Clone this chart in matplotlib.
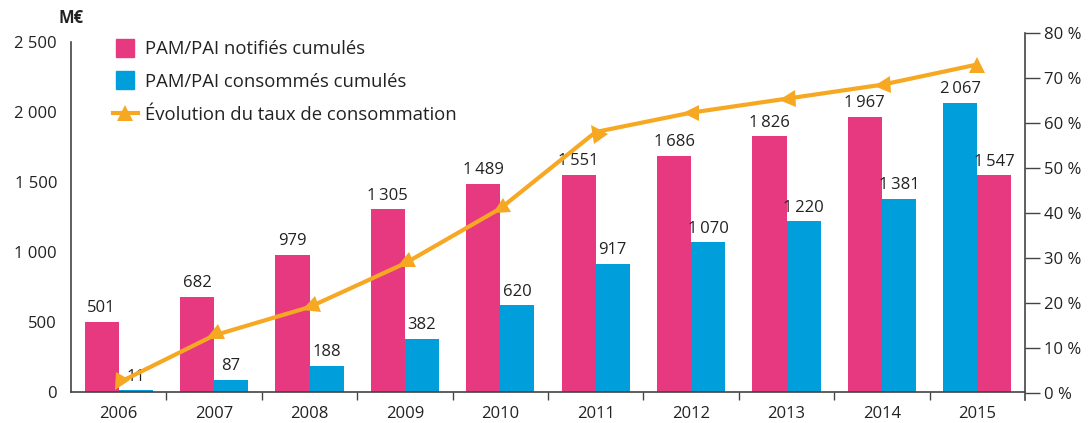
import matplotlib
matplotlib.use("Agg")
import matplotlib.pyplot as plt
from matplotlib.lines import Line2D
from matplotlib.markers import MarkerStyle
from matplotlib.transforms import Affine2D

plt.rcParams['font.family'] = ['Open Sans', 'DejaVu Sans']

# --- data -------------------------------------------------------------
years = ["2006", "2007", "2008", "2009", "2010", "2011", "2012", "2013", "2014", "2015"]
notifies = [501, 682, 979, 1305, 1489, 1551, 1686, 1826, 1967, 2067]
consommes = [11, 87, 188, 382, 620, 917, 1070, 1220, 1381, 1547]
taux = [2.3, 12.8, 19.1, 28.8, 41.0, 58.0, 62.3, 65.4, 68.5, 73.0]
left_ticks = [0, 500, 1000, 1500, 2000, 2500]
left_tick_labels = ["0", "500", "1 000", "1 500", "2 000", "2 500"]
right_ticks = [0, 10, 20, 30, 40, 50, 60, 70, 80]
right_tick_labels = ["0 %", "10 %", "20 %", "30 %", "40 %", "50 %", "60 %", "70 %", "80 %"]
legend_labels = ["PAM/PAI notifiés cumulés", "PAM/PAI consommés cumulés",
                 "Évolution du taux de consommation"]

PINK = "#E6397F"
BLUE = "#009FDB"
ORANGE = "#F7A823"
TXT = "#222222"
AXC = "#444444"

# the last year's pair is printed with its colours swapped
left_colors = [PINK] * 9 + [BLUE]
right_colors = [BLUE] * 9 + [PINK]
# orientation of the triangle markers along the curve (degrees)
marker_rot = [150, 115, 112, 115, 118, 35, 90, 95, 95, 0]


def fmt(v):
    s = f"{v:,}"
    return s.replace(",", "\u2009")


W, H = 1092, 423
fig = plt.figure(figsize=(W / 100, H / 100), dpi=100)

# bar axes
ax = fig.add_axes([71 / W, (H - 392) / H, (1025 - 71) / W, (392 - 42) / H])
n = len(years)
x = list(range(n))
bw = 0.357
xl = [i - bw / 2 for i in x]
xr = [i + bw / 2 for i in x]
ax.bar(xl, notifies, width=bw, color=left_colors, linewidth=0, zorder=2)
ax.bar(xr, consommes, width=bw, color=right_colors, linewidth=0, zorder=2)
for xi, v in zip(xl, notifies):
    ax.annotate(fmt(v), (xi, v), xytext=(0, 4), textcoords="offset points",
                ha="center", va="bottom", fontsize=12, color=TXT)
for xi, v in zip(xr, consommes):
    ax.annotate(fmt(v), (xi, v), xytext=(0, 4), textcoords="offset points",
                ha="center", va="bottom", fontsize=12, color=TXT)

ax.set_xlim(-0.5, n - 0.5)
ax.set_ylim(0, 2500)
ax.set_yticks(left_ticks)
ax.set_yticklabels(left_tick_labels)
ax.tick_params(axis="y", length=0, pad=10, labelsize=12, labelcolor=TXT)
ax.set_xticks([i + 0.5 for i in range(n - 1)])
ax.set_xticklabels([])
ax.tick_params(axis="x", which="major", length=6, width=1, color=AXC, direction="out")
ax.set_xticks(x, minor=True)
ax.set_xticklabels(years, minor=True)
ax.tick_params(axis="x", which="minor", length=0, pad=10, labelsize=12, labelcolor=TXT)
for s in ("top", "right"):
    ax.spines[s].set_visible(False)
ax.spines["left"].set_color(AXC)
ax.spines["bottom"].set_color(AXC)
ax.spines["left"].set_linewidth(1.2)
ax.spines["bottom"].set_linewidth(1.2)
ax.patch.set_visible(False)

# rate axes (right)
ax2 = fig.add_axes([71 / W, (H - 400) / H, (1025 - 71) / W, (400 - 33) / H])
ax2.patch.set_visible(False)
ax2.set_xlim(-0.5, n - 0.5)
ax2.set_ylim(-7 / 4.5, 80)
ax2.plot(x, taux, color=ORANGE, lw=3, zorder=3, solid_capstyle="round")
for xi, v, r in zip(x, taux, marker_rot):
    m = MarkerStyle("^", transform=Affine2D().rotate_deg(r))
    ax2.plot([xi], [v], marker=m, markersize=12, color=ORANGE,
             markeredgewidth=0, linestyle="none", zorder=4)
ax2.yaxis.tick_right()
ax2.set_yticks(right_ticks)
ax2.set_yticklabels(right_tick_labels)
ax2.tick_params(axis="y", length=11, width=1, color=AXC, direction="out", pad=3,
                labelsize=12, labelcolor=TXT)
ax2.set_xticks([])
for s in ("top", "left", "bottom"):
    ax2.spines[s].set_visible(False)
ax2.spines["right"].set_color(AXC)
ax2.spines["right"].set_linewidth(1.2)

fig.text(58 / W, 1 - 18 / H, "M€", fontsize=12, fontweight="bold", color=TXT,
         ha="left", va="center")

handles = [
    Line2D([], [], marker="s", markersize=12.5, color=PINK, linestyle="none"),
    Line2D([], [], marker="s", markersize=12.5, color=BLUE, linestyle="none"),
    Line2D([], [], marker="^", markersize=12, color=ORANGE, lw=3,
           markeredgewidth=0),
]
fig.legend(handles, legend_labels, loc="upper left",
           bbox_to_anchor=(113 / W, 1 - 40 / H), frameon=False, fontsize=13.3,
           handlelength=1.35, handletextpad=0.4, labelspacing=0.8,
           borderpad=0, borderaxespad=0, labelcolor=TXT)

fig.savefig("out.png", dpi=100)
